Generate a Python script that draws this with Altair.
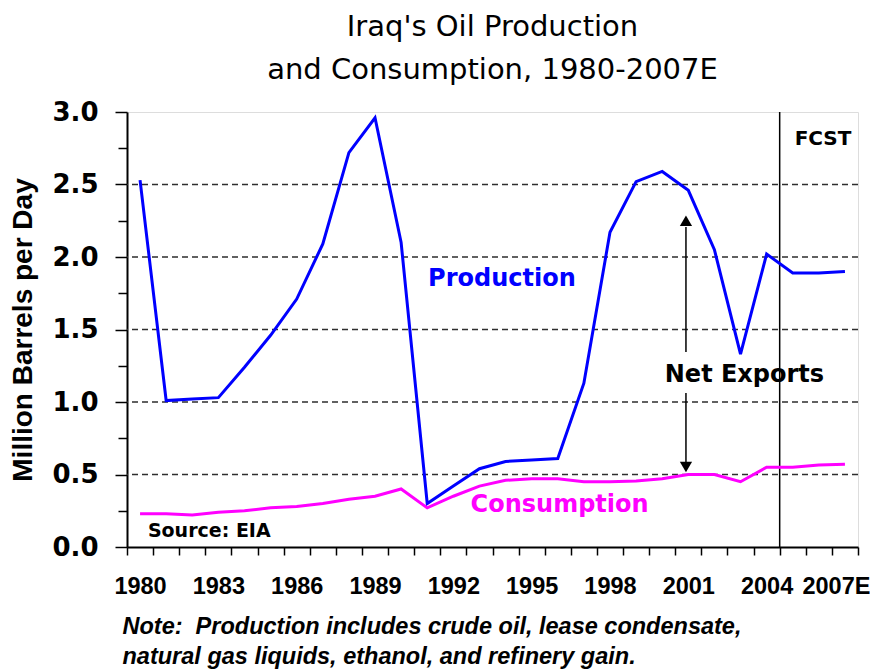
import altair as alt
import pandas as pd

# ---- data ----
years = list(range(1980, 2008))
production = [2.53, 1.01, 1.02, 1.03, 1.24, 1.46, 1.71, 2.09, 2.72, 2.96,
              2.10, 0.30, 0.42, 0.54, 0.59, 0.60, 0.61, 1.13, 2.17, 2.52,
              2.59, 2.46, 2.05, 1.33, 2.02, 1.89, 1.89, 1.90]
consumption = [0.23, 0.23, 0.22, 0.24, 0.25, 0.27, 0.28, 0.30, 0.33, 0.35,
               0.40, 0.27, 0.35, 0.42, 0.46, 0.47, 0.47, 0.45, 0.45, 0.455,
               0.47, 0.50, 0.50, 0.45, 0.55, 0.55, 0.565, 0.57]

grid_values = [0.5, 1.0, 1.5, 2.0, 2.5]
major_y = [0.0, 0.5, 1.0, 1.5, 2.0, 2.5, 3.0]
minor_y = [0.25, 0.75, 1.25, 1.75, 2.25, 2.75]
label_years = [1980, 1983, 1986, 1989, 1992, 1995, 1998, 2001, 2004, 2007]
year_bounds = [1979.5 + i for i in range(29)]
forecast_start = [2004.5]

title_lines = ["Iraq's Oil Production", "and Consumption, 1980-2007E"]
y_title = "Million Barrels per Day"
note_lines = ["Note:\u00a0 Production includes crude oil, lease condensate,",
              "natural gas liquids, ethanol, and refinery gain."]

# ---- annotation text (data coordinates) ----
ann_production = {"t": ["Production"], "x": [1993.86], "y": [1.80]}
ann_consumption = {"t": ["Consumption"], "x": [1996.07], "y": [0.241]}
ann_net = {"t": ["Net Exports"], "x": [2003.15], "y": [1.138]}
ann_source = {"t": ["Source: EIA"], "x": [1980.30], "y": [0.069]}
ann_fcst = {"t": ["FCST"], "x": [2006.16], "y": [2.772]}
arrow_x = 2000.91
arrow_up = {"x": [arrow_x], "y": [1.345], "y2": [2.207]}
arrow_down = {"x": [arrow_x], "y": [0.586], "y2": [1.062]}
head_up = {"x": [arrow_x], "y": [2.25]}
head_down = {"x": [arrow_x], "y": [0.552]}

df = pd.DataFrame({"year": years, "production": production, "consumption": consumption})

xs = alt.Scale(domain=[1979.5, 2007.5], nice=False, zero=False)
ys = alt.Scale(domain=[0, 3], nice=False, zero=True)

grid = alt.Chart(pd.DataFrame({"g": grid_values})).mark_rule(
    color="#2e2e2e", strokeWidth=1.5, strokeDash=[6, 4]
).encode(y=alt.Y("g:Q", scale=ys, axis=None))

fcst_line = alt.Chart(pd.DataFrame({"f": forecast_start})).mark_rule(
    color="black", strokeWidth=1.5
).encode(x=alt.X("f:Q", scale=xs, axis=None))

prod_line = alt.Chart(df).mark_line(color="#0000FF", strokeWidth=3).encode(
    x=alt.X("year:Q", scale=xs,
            axis=alt.Axis(values=year_bounds, labels=False, ticks=True, tickSize=8,
                          tickColor="black", tickWidth=1.5, domain=True,
                          domainColor="black", domainWidth=2, grid=False,
                          title=None, orient="bottom")),
    y=alt.Y("production:Q", scale=ys,
            axis=alt.Axis(values=major_y, format=".1f", tickSize=12, tickColor="black",
                          tickWidth=1.5, domainColor="black", domainWidth=2, grid=False,
                          labelFont="DejaVu Sans", labelFontSize=26, labelFontWeight="bold",
                          labelColor="black", labelPadding=17, labelFlush=False,
                          labelOverlap=False, title=y_title, titleFont="Liberation Sans",
                          titleFontSize=28, titleFontWeight="bold", titleColor="black",
                          titleAngle=270, titleX=-104, titleY=217.5, titleAlign="center",
                          titleBaseline="middle", orient="left")),
)

cons_line = alt.Chart(df).mark_line(color="#FF00FF", strokeWidth=3).encode(
    x=alt.X("year:Q", scale=xs,
            axis=alt.Axis(values=label_years, ticks=False, domain=False, grid=False,
                          labelExpr="datum.value == 2007 ? '2007E' : format(datum.value, 'd')",
                          labelOffset={"condition": {"test": "datum.value == 2007", "value": -9},
                                       "value": 0},
                          labelFont="Liberation Sans", labelFontSize=23.5,
                          labelFontWeight="bold", labelColor="black", labelPadding=27,
                          labelFlush=False, labelOverlap=False, labelBound=False,
                          title=note_lines, titleFont="Liberation Sans", titleFontSize=23.5,
                          titleFontWeight="bold", titleFontStyle="italic", titleColor="black",
                          titleX=-5, titleY=86, titleAlign="left", titleBaseline="alphabetic",
                          titleLineHeight=30, orient="bottom")),
    y=alt.Y("consumption:Q", scale=ys,
            axis=alt.Axis(values=minor_y, labels=False, tickSize=9, tickColor="black",
                          tickWidth=1.5, domain=False, grid=False, title=None,
                          orient="left")),
)


def text_layer(rows, color, size, align="center"):
    return alt.Chart(pd.DataFrame(rows)).mark_text(
        font="DejaVu Sans", fontSize=size, fontWeight="bold", color=color,
        align=align, baseline="alphabetic"
    ).encode(
        x=alt.X("x:Q", scale=xs, axis=None),
        y=alt.Y("y:Q", scale=ys, axis=None),
        text="t:N",
    )


def arrow_layer(rows):
    return alt.Chart(pd.DataFrame(rows)).mark_rule(color="black", strokeWidth=1.5).encode(
        x=alt.X("x:Q", scale=xs, axis=None),
        y=alt.Y("y:Q", scale=ys, axis=None),
        y2="y2:Q",
    )


def head_layer(rows, shape):
    return alt.Chart(pd.DataFrame(rows)).mark_point(
        shape=shape, filled=True, color="black", size=150, opacity=1, strokeWidth=0
    ).encode(
        x=alt.X("x:Q", scale=xs, axis=None),
        y=alt.Y("y:Q", scale=ys, axis=None),
    )


chart = alt.layer(
    grid,
    fcst_line,
    arrow_layer(arrow_up),
    arrow_layer(arrow_down),
    head_layer(head_up, "triangle-up"),
    head_layer(head_down, "triangle-down"),
    prod_line,
    cons_line,
    text_layer(ann_production, "#0000FF", 24),
    text_layer(ann_consumption, "#FF00FF", 24),
    text_layer(ann_net, "black", 24),
    text_layer(ann_source, "black", 19, align="left"),
    text_layer(ann_fcst, "black", 20),
).resolve_axis(x="independent", y="independent").properties(
    width=731,
    height=435,
    title=alt.TitleParams(text=title_lines, font="DejaVu Sans", fontSize=29,
                          fontWeight="normal", color="black", lineHeight=43,
                          anchor="middle", offset=14),
    autosize=alt.AutoSizeParams(type="none"),
    padding={"left": 119, "top": 104, "right": 12, "bottom": 122},
).configure_view(stroke="#8c8c8c", strokeWidth=2).configure(background="white")

chart.save("out.html", embed_options={"renderer": "svg", "actions": False})
